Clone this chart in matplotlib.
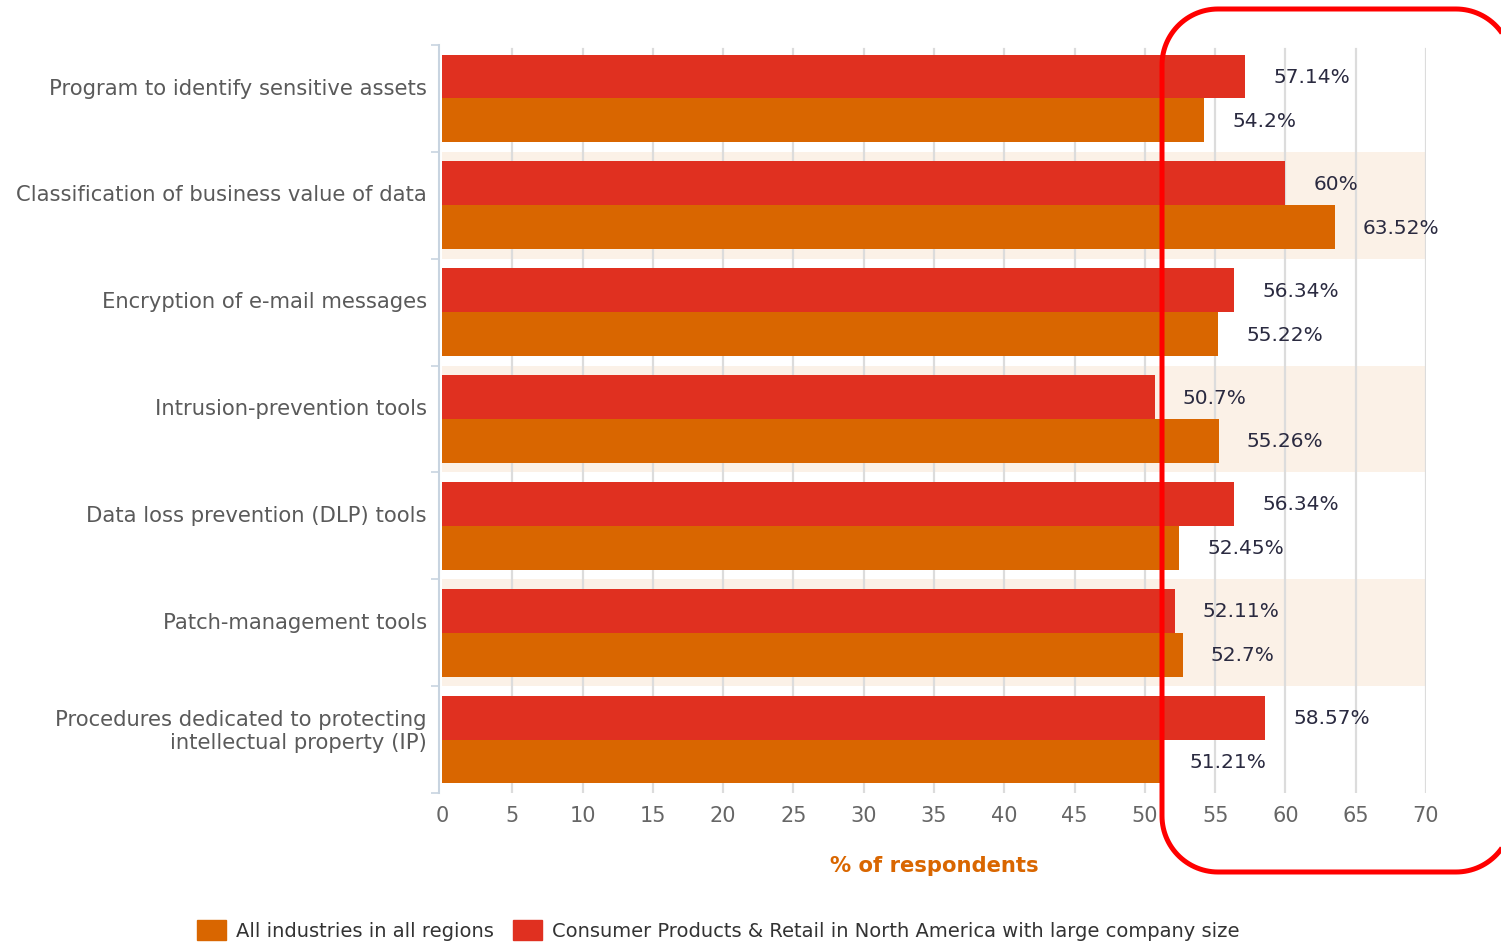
import numpy as np
import matplotlib
matplotlib.use("Agg")
import matplotlib.pyplot as plt
import matplotlib.patches as mpatches
from matplotlib.path import Path

# ─────────────────────────────────────────────
# Data
# ─────────────────────────────────────────────
categories = [
    "Program to identify sensitive assets",
    "Classification of business value of data",
    "Encryption of e-mail messages",
    "Intrusion-prevention tools",
    "Data loss prevention (DLP) tools",
    "Patch-management tools",
    "Procedures dedicated to protecting\nintellectual property (IP)",
]
consumer_na = [57.14, 60, 56.34, 50.7, 56.34, 52.11, 58.57]
all_industries = [54.2, 63.52, 55.22, 55.26, 52.45, 52.7, 51.21]
consumer_labels = ["57.14%", "60%", "56.34%", "50.7%", "56.34%", "52.11%", "58.57%"]
all_labels = ["54.2%", "63.52%", "55.22%", "55.26%", "52.45%", "52.7%", "51.21%"]
xticks = list(range(0, 75, 5))

RED = "#e03020"
ORANGE = "#d96600"
BAND = "#fbf1e7"
GRID = "#dcdcdc"
TXT = "#5a5a5a"
VAL = "#2a2a40"

W, H = 1501, 945
fig = plt.figure(figsize=(W / 100, H / 100), dpi=100)
ax = fig.add_axes([442 / W, 1 - 794 / H, (1426 - 442) / W, (794 - 46) / H])

n = len(categories)
y = np.arange(n) + 0.5
bh = 0.41

# alternating bands
for i in range(n):
    if i % 2 == 1:
        ax.axhspan(i, i + 1, color=BAND, zorder=0, lw=0)

for xt in xticks[1:]:
    ax.axvline(xt, color=GRID, lw=1.6, zorder=1, ymin=0, ymax=0.995)

ax.barh(y - bh / 2, consumer_na, height=bh, color=RED, lw=0, zorder=2)
ax.barh(y + bh / 2, all_industries, height=bh, color=ORANGE, lw=0, zorder=2)

off = 2.0
for yi, v, lab in zip(y, consumer_na, consumer_labels):
    ax.text(v + off, yi - bh / 2, lab, va="center", ha="left",
            fontsize=14.5, color=VAL, zorder=3)
for yi, v, lab in zip(y, all_industries, all_labels):
    ax.text(v + off, yi + bh / 2, lab, va="center", ha="left",
            fontsize=14.5, color=VAL, zorder=3)

ax.set_xlim(0, 70)
ax.set_ylim(n, 0)
ax.set_xticks(xticks, labels=[str(t) for t in xticks])
ax.tick_params(axis="x", length=0, pad=9, labelsize=15, labelcolor="#666666")

# category labels sit a little above the band centre
ax.set_yticks(y - 0.12, labels=categories)
ax.set_yticks(np.arange(n + 1), minor=True)
ax.tick_params(axis="y", which="major", length=0, pad=9,
               labelsize=15.2, labelcolor=TXT)
ax.tick_params(axis="y", which="minor", length=6, color="#c8d4e0", width=1.2)
for lab in ax.get_yticklabels():
    lab.set_linespacing(1.0)

for s in ["top", "right", "bottom"]:
    ax.spines[s].set_visible(False)
ax.spines["left"].set_color("#c8d4e0")
ax.spines["left"].set_linewidth(1.5)
ax.spines["left"].set_position(("outward", 2))

ax.set_xlabel("% of respondents", fontsize=15.2, fontweight="bold",
              color=ORANGE, labelpad=21)

handles = [mpatches.Patch(color=ORANGE, label="All industries in all regions"),
           mpatches.Patch(color=RED,
                          label="Consumer Products & Retail in North America with large company size")]
fig.legend(handles=handles, loc="center", ncol=2, frameon=False,
           bbox_to_anchor=(718 / W, 1 - 931 / H), fontsize=14,
           handlelength=1.5, handleheight=1.2, handletextpad=0.5,
           columnspacing=1.0, labelcolor="#333333")

# red highlight frame on the right (pixel coords -> figure coords)
x0, x1, y0, y1, r = 1162, 1512, 10, 873, 56
pts = []
for cx, cy, a0 in [(x0 + r, y0 + r, 180), (x1 - r, y0 + r, 270),
                   (x1 - r, y1 - r, 0), (x0 + r, y1 - r, 90)]:
    t = np.radians(np.linspace(a0, a0 + 90, 30))
    pts += list(zip(cx + r * np.cos(t), cy + r * np.sin(t)))
pts.append(pts[0])
pts = np.array(pts)
verts = np.column_stack([pts[:, 0] / W, 1 - pts[:, 1] / H])
frame = mpatches.PathPatch(Path(verts), transform=fig.transFigure, fill=False,
                           ec="#ff0000", lw=3.6, zorder=10, clip_on=False)
fig.patches.append(frame)

fig.savefig("out.png", dpi=100)
